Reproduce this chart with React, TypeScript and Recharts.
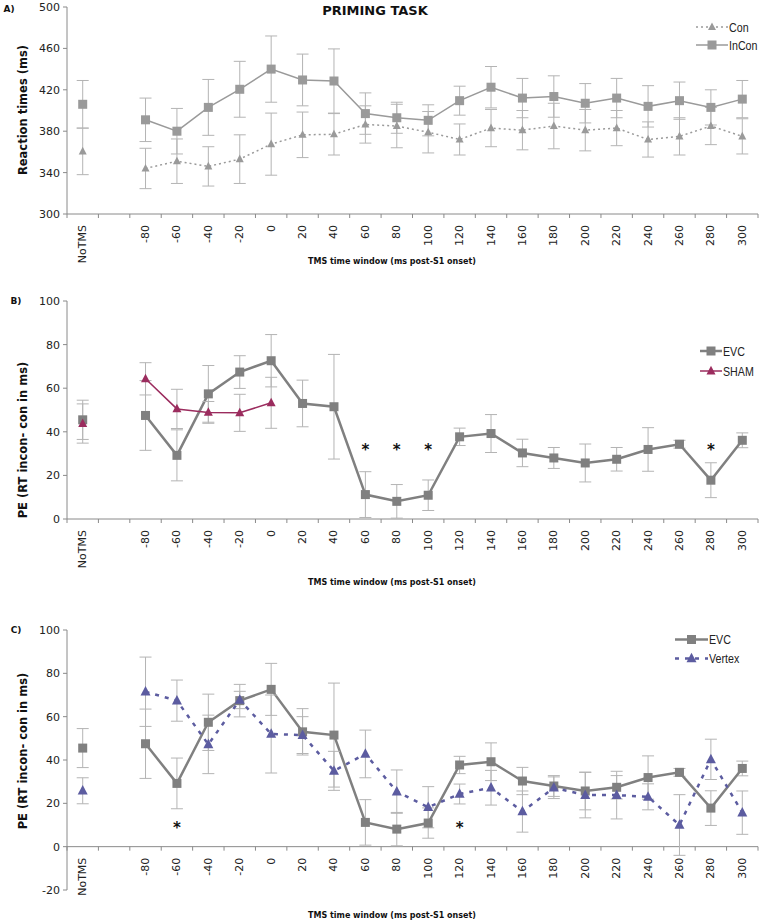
import React from "react";
import {
  LineChart,
  Line,
  XAxis,
  YAxis,
  ErrorBar,
  ReferenceLine,
  ReferenceDot,
  Legend,
} from "recharts";

// categories on the x axis (the blank one is the gap after NoTMS)
const categories = [
  "NoTMS", " ", "-80", "-60", "-40", "-20", "0", "20", "40", "60", "80",
  "100", "120", "140", "160", "180", "200", "220", "240", "260", "280", "300",
];

// A) priming task reaction times
const conRT = [360.5, null, 344, 351, 346, 353, 367.5, 376.5, 377, 386.5, 385, 379, 372, 383, 381, 385, 381, 383, 372, 375, 385, 375];
const conErr = [22.5, null, 19.5, 21.5, 19, 23.5, 30, 22, 20, 18, 21, 20, 15, 18, 19, 22, 20, 17, 17, 18, 18, 17];
const inconRT = [406, null, 391, 380, 403, 420.5, 440, 429.5, 428.5, 397, 393, 390.5, 409.5, 422.5, 412, 413.5, 407, 412, 404, 409.5, 403, 411];
const inconErr = [23, null, 21, 22, 27, 27, 32, 25, 31, 20, 15, 15, 14, 20, 19, 20, 19, 19, 20, 18, 17, 18];

// B) / C) priming effect
const evcPE = [45.5, null, 47.5, 29.2, 57.4, 67.4, 72.6, 53, 51.5, 11.2, 8.1, 10.9, 37.7, 39.2, 30.3, 28, 25.7, 27.4, 31.9, 34.3, 17.8, 36.1];
const evcErr = [9, null, 16, 11.7, 13, 7.5, 12, 10.7, 24, 10.5, 7.7, 7, 4, 8.7, 6.3, 4.8, 8.7, 5.4, 10, 1.8, 8, 3.4];
const shamPE = [43.8, null, 64.3, 50.5, 48.9, 48.7, 53.3, null, null, null, null, null, null, null, null, null, null, null, null, null, null, null];
const shamErr = [9, null, 7.4, 9, 5, 8.5, 11.7, null, null, null, null, null, null, null, null, null, null, null, null, null, null, null];
const vertexPE = [25.8, null, 71.5, 67.4, 47.2, 67.7, 52, 51.5, 35, 42.8, 25.4, 18.2, 24.3, 27.2, 16.2, 27.2, 23.8, 23.8, 23, 10, 40.3, 15.7];
const vertexErr = [6, null, 16, 9.5, 13.5, 4, 18, 8.5, 9, 11, 10, 9.5, 4.6, 8, 9.5, 5, 10.5, 11, 6, 14, 9.3, 10];

// significance stars
const starsB = ["60", "80", "100", "280"];
const starsBLevel = 32;
const starsC = ["-60", "120"];
const starsCLevel = 9;

const ticksA = [300, 340, 380, 420, 460, 500];
const ticksB = [0, 20, 40, 60, 80, 100];
const ticksC = [-20, 0, 20, 40, 60, 80, 100];

const tableA = categories.map((cat, i) => ({
  cat, con: conRT[i], conErr: conErr[i], incon: inconRT[i], inconErr: inconErr[i],
}));
const tableB = categories.map((cat, i) => ({
  cat, evc: evcPE[i], evcErr: evcErr[i], sham: shamPE[i], shamErr: shamErr[i],
}));
const tableC = categories.map((cat, i) => ({
  cat, evc: evcPE[i], evcErr: evcErr[i], vertex: vertexPE[i], vertexErr: vertexErr[i],
}));

const FONT = "'DejaVu Sans', Verdana, sans-serif";
const AXIS = "#8a8a8a";
const ERR = "#b4b4b4";

const STYLE: Record<string, any> = {
  con: { color: "#9a9a9a", width: 1.5, dash: "2 3", shape: "tri", size: 8 },
  incon: { color: "#9a9a9a", width: 1.5, dash: undefined, shape: "sq", size: 9 },
  evc: { color: "#808080", width: 2.5, dash: undefined, shape: "sq", size: 9 },
  sham: { color: "#9b2c5e", width: 1.5, dash: undefined, shape: "tri", size: 9 },
  vertex: { color: "#5c5ca0", width: 2.5, dash: "4 6", shape: "tri", size: 10 },
};

function marker(shape: string, size: number, fill: string, cx: number, cy: number, key?: any) {
  if (shape === "sq") {
    return <rect key={key} x={cx - size / 2} y={cy - size / 2} width={size} height={size} fill={fill} />;
  }
  const h = size * 0.95;
  const pts = `${cx},${cy - h * 0.6} ${cx - size / 2},${cy + h * 0.4} ${cx + size / 2},${cy + h * 0.4}`;
  return <polygon key={key} points={pts} fill={fill} />;
}

const dotFor = (key: string) => (props: any) => {
  const { cx, cy, index } = props;
  const st = STYLE[key];
  if (cx == null || cy == null || Number.isNaN(cy)) return <g key={`d-${key}-${index}`} />;
  return marker(st.shape, st.size, st.color, cx, cy, `d-${key}-${index}`);
};

const tickMark = (props: any) => (
  <line x1={props.x1} y1={props.y1} x2={props.x1} y2={props.y1 + 4} stroke={AXIS} strokeWidth={1} />
);

// x axis drawn at a given y level (panel C has it at zero)
function categoryAxis(base: number) {
  const items: any[] = [
    <ReferenceLine key="xline" y={base} stroke={AXIS} ifOverflow="visible" />,
  ];
  categories.forEach((cat, i) => {
    items.push(
      <ReferenceLine key={`tk-${i}`} segment={[{ x: cat, y: base }, { x: cat, y: base }]}
        position="start" ifOverflow="visible" shape={tickMark} />
    );
    if (i === categories.length - 1) {
      items.push(
        <ReferenceLine key="tk-end" segment={[{ x: cat, y: base }, { x: cat, y: base }]}
          position="end" ifOverflow="visible" shape={tickMark} />
      );
    }
    items.push(
      <ReferenceDot key={`lb-${i}`} x={cat} y={base} ifOverflow="visible"
        shape={(p: any) => (
          <text x={p.cx} y={p.cy + 11} transform={`rotate(-90 ${p.cx} ${p.cy + 11})`}
            textAnchor="end" dominantBaseline="central" fontSize={11}
            fontFamily={FONT} fill="#222">{cat.trim()}</text>
        )} />
    );
  });
  return items;
}

function stars(cats: string[], level: number) {
  return cats.map((cat) => (
    <ReferenceDot key={`st-${cat}`} x={cat} y={level} ifOverflow="visible"
      shape={(p: any) => (
        <text x={p.cx} y={p.cy + 6} textAnchor="middle" fontSize={15} fontWeight="bold"
          fontFamily={FONT} fill="#111">*</text>
      )} />
  ));
}

const legendContent = (rowH: number, sample: number) => (props: any) => (
  <div>
    {(props.payload || []).map((item: any) => {
      const st = STYLE[item.dataKey];
      return (
        <div key={item.dataKey} style={{ display: "flex", alignItems: "center", height: rowH }}>
          <svg width={sample} height={rowH} style={{ display: "block" }}>
            <line x1={0} x2={sample} y1={rowH / 2} y2={rowH / 2} stroke={st.color}
              strokeWidth={st.width} strokeDasharray={st.dash} />
            {marker(st.shape, st.size, st.color, sample / 2, rowH / 2)}
          </svg>
          <span style={{ fontFamily: "'Liberation Sans', Arial, sans-serif", display: "inline-block",
            fontSize: 13, color: "#222", marginLeft: 1, transform: "scaleX(0.82)",
            transformOrigin: "left center" }}>{item.value}</span>
        </div>
      );
    })}
  </div>
);

function series(key: string, errKey: string, name: string) {
  const st = STYLE[key];
  return (
    <Line key={key} dataKey={key} name={name} type="linear" stroke={st.color}
      strokeWidth={st.width} strokeDasharray={st.dash} dot={dotFor(key)} activeDot={false}
      connectNulls={false} isAnimationActive={false}>
      <ErrorBar dataKey={errKey} width={6} stroke={ERR} strokeWidth={1} direction="y" />
    </Line>
  );
}

const yTick = { fontSize: 11, fill: "#222", fontFamily: FONT };

const text = (s: React.CSSProperties, t: string, rotate = false) => (
  <div style={{
    position: "absolute", fontFamily: FONT, fontWeight: "bold", color: "#111",
    whiteSpace: "nowrap", ...s,
    transform: rotate ? "translate(-50%, -50%) rotate(-90deg)" : "translate(-50%, -50%)",
  }}>{t}</div>
);

export default function App() {
  return (
    <div style={{ position: "absolute", left: 0, top: 0, width: 763, height: 923, background: "#fff" }}>
      {/* A) */}
      <div style={{ position: "absolute", left: 0, top: 0 }}>
        <LineChart width={763} height={268} data={tableA} margin={{ top: 7, right: 5, bottom: 54, left: 0 }}>
          <XAxis dataKey="cat" scale="band" hide />
          <YAxis domain={[300, 500]} ticks={ticksA} width={67} tick={yTick} tickSize={4}
            tickMargin={3} stroke={AXIS} interval={0} />
          {categoryAxis(300)}
          {series("con", "conErr", "Con")}
          {series("incon", "inconErr", "InCon")}
          <Legend layout="vertical" align="center" verticalAlign="middle"
            content={legendContent(18, 32)}
            wrapperStyle={{ left: 696, top: 18, right: "auto", bottom: "auto", width: "auto" }} />
        </LineChart>
      </div>

      {/* B) */}
      <div style={{ position: "absolute", left: 0, top: 290 }}>
        <LineChart width={763} height={300} data={tableB} margin={{ top: 11, right: 5, bottom: 71, left: 0 }}>
          <XAxis dataKey="cat" scale="band" hide />
          <YAxis domain={[0, 100]} ticks={ticksB} width={67} tick={yTick} tickSize={4}
            tickMargin={3} stroke={AXIS} interval={0} />
          {categoryAxis(0)}
          {series("evc", "evcErr", "EVC")}
          {series("sham", "shamErr", "SHAM")}
          {stars(starsB, starsBLevel)}
          <Legend layout="vertical" align="center" verticalAlign="middle"
            content={legendContent(20, 22)}
            wrapperStyle={{ left: 700, top: 51, right: "auto", bottom: "auto", width: "auto" }} />
        </LineChart>
      </div>

      {/* C) */}
      <div style={{ position: "absolute", left: 0, top: 620 }}>
        <LineChart width={763} height={303} data={tableC} margin={{ top: 10, right: 5, bottom: 33, left: 0 }}>
          <XAxis dataKey="cat" scale="band" hide />
          <YAxis domain={[-20, 100]} ticks={ticksC} width={67} tick={yTick} tickSize={4}
            tickMargin={3} stroke={AXIS} interval={0} />
          {categoryAxis(0)}
          {series("evc", "evcErr", "EVC")}
          {series("vertex", "vertexErr", "Vertex")}
          {stars(starsC, starsCLevel)}
          <Legend layout="vertical" align="center" verticalAlign="middle"
            content={legendContent(19, 33)}
            wrapperStyle={{ left: 675, top: 10, right: "auto", bottom: "auto", width: "auto" }} />
        </LineChart>
      </div>

      {text({ left: 375, top: 10, fontSize: 13 }, "PRIMING TASK")}
      {text({ left: 9, top: 9, fontSize: 9 }, "A)")}
      {text({ left: 16, top: 301, fontSize: 9 }, "B)")}
      {text({ left: 16, top: 630, fontSize: 9 }, "C)")}
      {text({ left: 23, top: 110, fontSize: 11.5 }, "Reaction times (ms)", true)}
      {text({ left: 23, top: 440, fontSize: 11.5 }, "PE (RT incon- con in ms)", true)}
      {text({ left: 23, top: 751, fontSize: 11.5 }, "PE (RT incon- con in ms)", true)}
      {text({ left: 392, top: 261, fontSize: 8 }, "TMS time window (ms post-S1 onset)")}
      {text({ left: 392, top: 582, fontSize: 8 }, "TMS time window (ms post-S1 onset)")}
      {text({ left: 392, top: 915, fontSize: 8 }, "TMS time window (ms post-S1 onset)")}
    </div>
  );
}
